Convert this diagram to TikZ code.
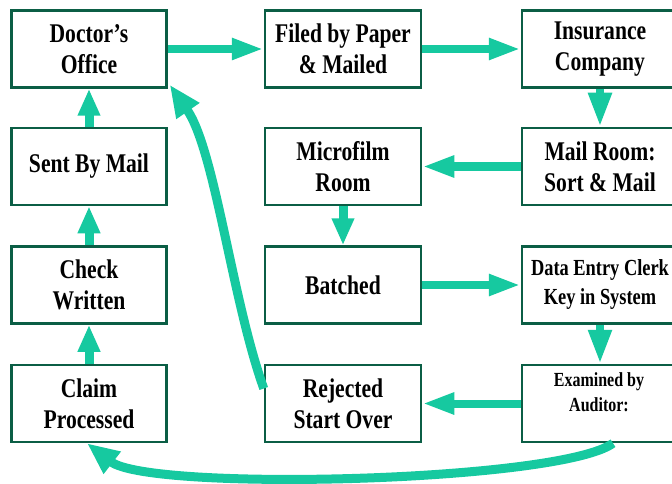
\documentclass[tikz,border=0pt]{standalone}
\usepackage{fontspec}
\setmainfont{Liberation Serif}[FakeStretch=0.8]
\usetikzlibrary{arrows.meta,calc}
\definecolor{boxgreen}{HTML}{0B5E45}
\definecolor{arrteal}{HTML}{16C9A0}
\tikzset{
  box/.style={draw=boxgreen, line width=2.5pt, fill=white, inner sep=0pt,
    minimum width=155pt, minimum height=77pt, align=center,
    font=\bfseries\fontsize{27}{31}\selectfont},
  arr/.style={draw=arrteal, line width=8pt,
    -{Triangle[length=32pt,width=20pt]}},
  varr/.style={draw=arrteal, line width=9pt,
    -{Triangle[length=27pt,width=21pt]}},
  darr/.style={draw=arrteal, line width=8pt,
    -{Triangle[length=34pt,width=22pt]}},
  carr/.style={draw=arrteal, line width=9pt,
    -{Triangle[length=32pt,width=26pt]}}
}
\begin{document}
\begin{tikzpicture}[x=1pt,y=-1pt]
\useasboundingbox (0,0) rectangle (672,484);
\clip (0,0) rectangle (672,484);
% column 1
\node[box] (doc)   at (89,49)    {Doctor's\\Office};
\node[box] (sent)  at (89,166.5) {Sent By Mail};
\node[box] (check) at (89,285)   {Check\\Written};
\node[box] (claim) at (89,403.5) {Claim\\Processed};
% column 2
\node[box, minimum width=156pt] (filed) at (343,49)    {Filed by Paper\\\& Mailed};
\node[box, minimum width=156pt] (micro) at (343,166.5) {Microfilm\\Room};
\node[box, minimum width=156pt] (batch) at (343,285)   {Batched};
\node[box, minimum width=156pt] (rej)   at (343,403.5) {Rejected\\Start Over};
% column 3
\node[box, minimum width=156pt] (ins)  at (600,49)    {Insurance\\Company};
\node[box, minimum width=156pt] (mail) at (600,166.5) {Mail Room:\\Sort \& Mail};
\node[box, minimum width=156pt, font=\bfseries\fontsize{23}{29}\selectfont] (data) at (600,285) {Data Entry Clerk\\Key in System};
\node[box, minimum width=156pt] (exam) at (600,403.5) {};
\node[align=center, font=\bfseries\fontsize{20}{25}\selectfont] (examtxt) at (599,392) {Examined by\\Auditor:};
% straight arrows
\draw[arr] (doc.east) -- (filed.west);
\draw[arr] (filed.east) -- (ins.west);
\draw[darr] (ins.south) -- (mail.north);
\draw[arr] (mail.west) -- (micro.east);
\draw[varr] (micro.south) -- (batch.north);
\draw[arr] (batch.east) -- (data.west);
\draw[darr] (data.south) -- (exam.north);
\draw[arr] (exam.west) -- (rej.east);
\draw[varr] (claim.north) -- (check.south);
\draw[varr] (check.north) -- (sent.south);
\draw[varr] (sent.north) -- (doc.south);
% curved arrows
\coordinate (rs) at ($(rej.west)+(0,-15)$);
\coordinate (de) at ($(doc.south east)+(2,-4)$);
\draw[carr] (rs) .. controls (232,300) and (215,150) .. (de);
\coordinate (es) at ($(exam.south)+(13,0)$);
\coordinate (ce) at ($(claim.south)+(-2,0)$);
\draw[carr] (es) .. controls (560,482) and (150,492) .. (ce);
\end{tikzpicture}
\end{document}
